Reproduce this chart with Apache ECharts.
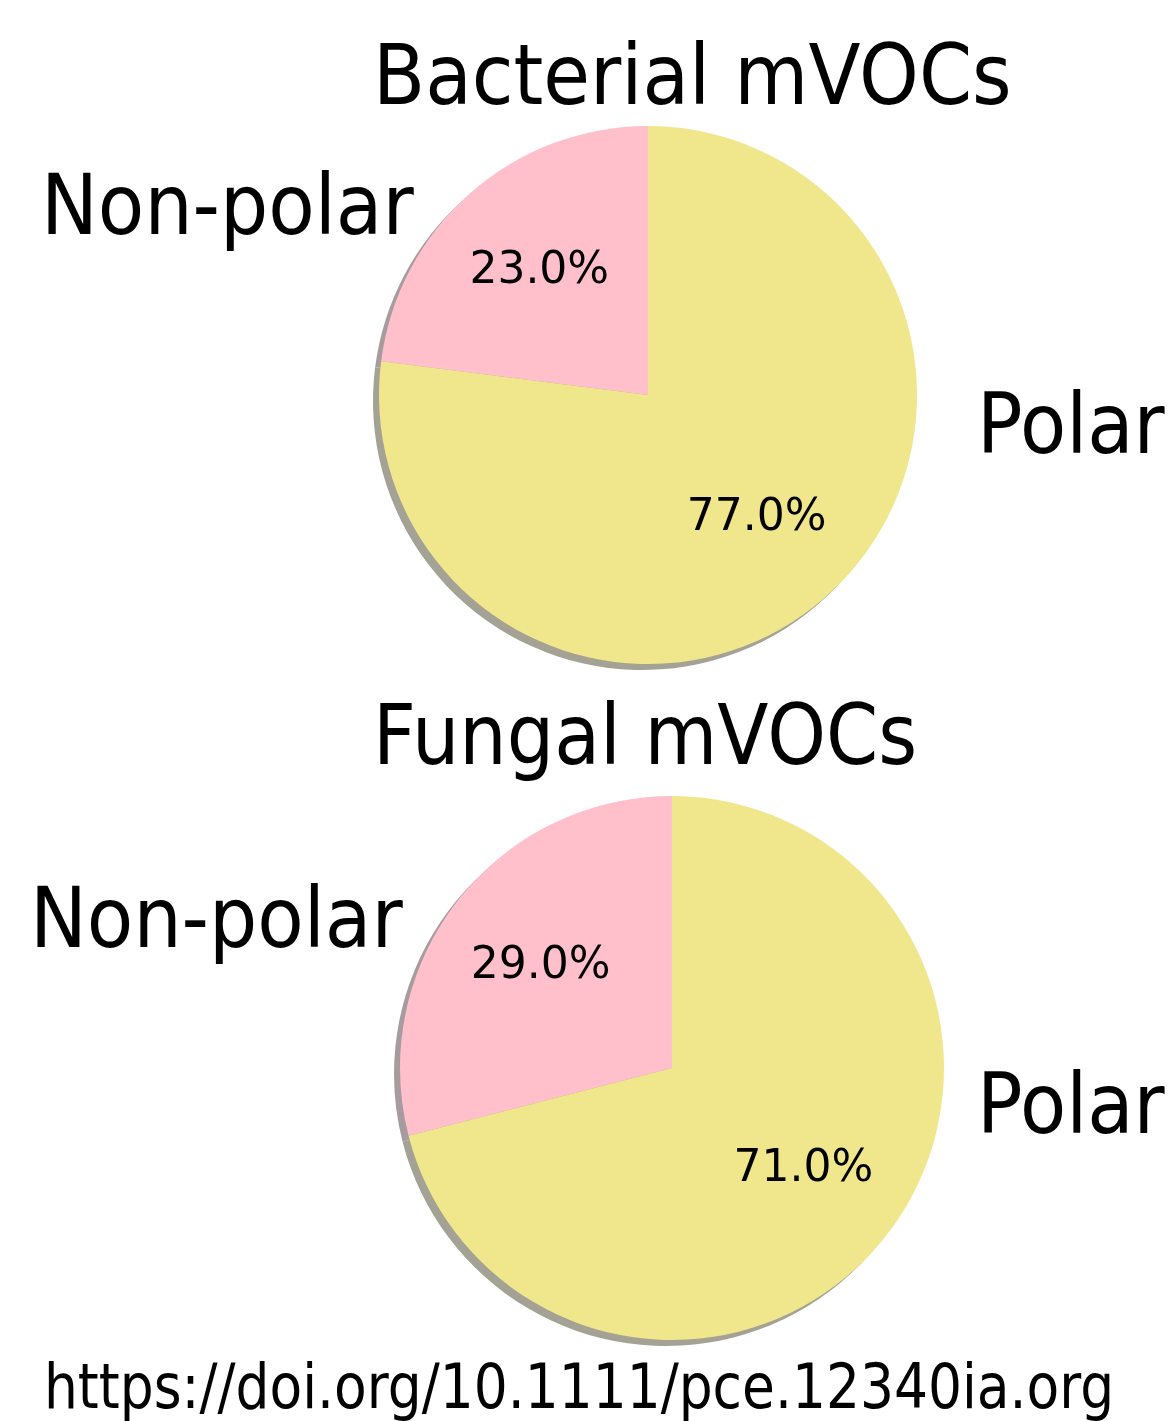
<!DOCTYPE html>
<html>
<head>
<meta charset="utf-8">
<script src="https://cdn.jsdelivr.net/npm/echarts@6/dist/echarts.min.js"></script>
<style>
  html, body { margin: 0; padding: 0; background: #fff; }
  #main { width: 1175px; height: 1421px; }
</style>
</head>
<body>
<div id="main"></div>
<script>
// data
var categories = ['Non-polar', 'Polar'];
var bacterialShare = [23.0, 77.0];
var fungalShare = [29.0, 71.0];
var panelTitles = ['Bacterial mVOCs', 'Fungal mVOCs'];
var sourceText = 'https://doi.org/10.1111/pce.12340ia.org';

var sliceColors = ['#FFC0CB', '#F0E68C'];
var shadowColors = ['#a69c9e', '#a4a295'];

function toData(values, colors) {
  return values.map(function (v, i) {
    return { name: categories[i], value: v, itemStyle: { color: colors[i] } };
  });
}

// one pie = shadow + wedges + an invisible larger ring that carries the % labels (at 0.6 r)
function pieSeries(values, cx, cy, r) {
  var common = {
    type: 'pie',
    startAngle: 90,
    clockwise: false,
    avoidLabelOverlap: false,
    silent: true,
    labelLine: { show: false }
  };
  return [
    Object.assign({}, common, {
      z: 1,
      center: [cx - 6, cy + 6],
      radius: r,
      label: { show: false },
      data: toData(values, shadowColors)
    }),
    Object.assign({}, common, {
      z: 2,
      center: [cx, cy],
      radius: r,
      label: { show: false },
      data: toData(values, sliceColors)
    }),
    Object.assign({}, common, {
      z: 3,
      center: [cx, cy],
      radius: r * 1.2,
      itemStyle: { color: 'rgba(0,0,0,0)' },
      label: {
        show: true,
        position: 'inside',
        fontFamily: 'DejaVu Sans',
        fontSize: 44,
        color: '#000',
        formatter: function (p) { return p.value.toFixed(1) + '%'; }
      },
      data: values.map(function (v, i) {
        return { name: categories[i], value: v, itemStyle: { color: 'rgba(0,0,0,0)' } };
      })
    })
  ];
}

function bigText(str, x, y, size, sx) {
  return {
    type: 'text',
    x: x, y: y,
    scaleX: sx,
    style: {
      text: str,
      fontFamily: 'DejaVu Sans',
      fontSize: size,
      fill: '#000',
      align: 'left',
      verticalAlign: 'middle'
    }
  };
}

var chart = echarts.init(document.getElementById('main'));
chart.setOption({
  animation: false,
  backgroundColor: '#fff',
  graphic: [
    bigText(panelTitles[0], 373, 82, 84, 0.905),
    bigText(categories[0], 41, 212, 84, 0.905),
    bigText(categories[1], 977, 431, 84, 0.9),
    bigText(panelTitles[1], 373, 742, 84, 0.89),
    bigText(categories[0], 30, 925, 84, 0.905),
    bigText(categories[1], 977, 1111, 84, 0.9),
    bigText(sourceText, 44, 1392, 62, 0.862)
  ],
  series: [].concat(
    pieSeries(bacterialShare, 648, 395, 269),
    pieSeries(fungalShare, 672, 1068, 272)
  )
});
</script>
</body>
</html>
